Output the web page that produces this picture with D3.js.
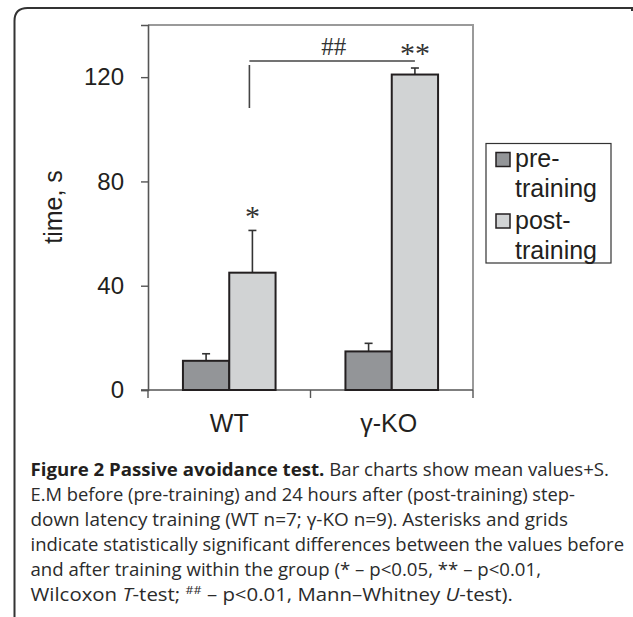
<!DOCTYPE html>
<html><head><meta charset="utf-8">
<script src="https://cdn.jsdelivr.net/npm/d3@7"></script>
<style>
html,body{margin:0;padding:0;background:#fff;}
svg{display:block;}
</style></head>
<body>
<svg id="chart" width="633" height="617"></svg>
<script>
const categories = ["WT", "γ-KO"];
const seriesNames = ["pre-training", "post-training"];
const legendLines = [["pre-", "training"], ["post-", "training"]];
const preValues = [11.2, 14.8];
const preErrors = [2.7, 3.1];
const postValues = [45.0, 121.0];
const postErrors = [16.2, 2.5];
const yTicks = [0, 40, 80, 120];
const yLabel = "time, s";
const groupMarks = ["*", "**"];
const betweenMark = "##";

const svg = d3.select("#chart");
const ink = "#231f20";
const sans = "'Liberation Sans', Arial, Helvetica, sans-serif";
const serif = "'Liberation Serif', 'Times New Roman', serif";
const capFont = "'Open Sans', 'Noto Sans', sans-serif";

// outer frame
svg.append("path")
  .attr("d", "M14.5,617 L14.5,21 Q14.5,8 27.5,8 L632,8 L632,11")
  .attr("fill", "none").attr("stroke", "#333").attr("stroke-width", 2);

const L = 148, R = 473, T = 25, B = 390;
const y = d3.scaleLinear().domain([0, 140]).range([B, T]);
const x0 = d3.scaleBand().domain(categories).range([L, R]).paddingInner(0.43).paddingOuter(0.215);
const x1 = d3.scaleBand().domain(seriesNames).range([0, x0.bandwidth()]);
const colors = d3.scaleOrdinal().domain(seriesNames).range(["#939598", "#d1d3d4"]);

// plot frame (top/right)
svg.append("path").attr("d", `M${L},${T} L${R},${T} L${R},${B}`)
  .attr("fill", "none").attr("stroke", "#9a9a9a").attr("stroke-width", 2);

// y axis
const yAxis = d3.axisLeft(y).tickValues(yTicks).tickSize(7).tickPadding(17).tickFormat(d3.format("d"));
const gy = svg.append("g").attr("transform", `translate(${L},0)`).call(yAxis);
gy.select(".domain").attr("stroke", "#555").attr("stroke-width", 1.6);
gy.selectAll(".tick line").attr("stroke", "#555").attr("stroke-width", 1.4);
gy.selectAll(".tick text").attr("font-family", sans).attr("font-size", 24).attr("fill", ink);

// x axis
const boundaries = [L, L + x0.step(), R];
const gx = svg.append("g");
gx.append("line").attr("x1", L - 7).attr("x2", R).attr("y1", B).attr("y2", B)
  .attr("stroke", "#555").attr("stroke-width", 1.6);
gx.selectAll(".xt").data(boundaries).join("line")
  .attr("x1", d => d).attr("x2", d => d).attr("y1", B).attr("y2", B + 8)
  .attr("stroke", "#555").attr("stroke-width", 1.4);
gx.selectAll(".xl").data(categories).join("text")
  .attr("x", (d, i) => x0(d) + x0.bandwidth() / 2 - (i === 1 ? 3 : 0)).attr("y", 432)
  .attr("text-anchor", "middle").attr("font-family", sans).attr("font-size", 25).attr("fill", ink)
  .text(d => d);

// y label
svg.append("text").attr("transform", "translate(61.5,207) rotate(-90)")
  .attr("text-anchor", "middle").attr("font-family", sans).attr("font-size", 25).attr("fill", ink)
  .text(yLabel);

// bars
const rows = [];
categories.forEach((c, i) => {
  rows.push({cat: c, s: seriesNames[0], v: preValues[i], e: preErrors[i]});
  rows.push({cat: c, s: seriesNames[1], v: postValues[i], e: postErrors[i]});
});
const bars = svg.append("g");
bars.selectAll(".err").data(rows).join("g").each(function(d) {
  const cx = x0(d.cat) + x1(d.s) + x1.bandwidth() / 2;
  const g = d3.select(this);
  g.append("line").attr("x1", cx).attr("x2", cx).attr("y1", y(d.v)).attr("y2", y(d.v + d.e))
    .attr("stroke", "#333").attr("stroke-width", 1.6);
  g.append("line").attr("x1", cx - 4).attr("x2", cx + 4).attr("y1", y(d.v + d.e)).attr("y2", y(d.v + d.e))
    .attr("stroke", "#333").attr("stroke-width", 1.6);
});
bars.selectAll("rect").data(rows).join("rect")
  .attr("x", d => x0(d.cat) + x1(d.s))
  .attr("y", d => y(d.v))
  .attr("width", x1.bandwidth())
  .attr("height", d => y(0) - y(d.v))
  .attr("fill", d => colors(d.s))
  .attr("stroke", ink).attr("stroke-width", 2);

// significance marks above post bars
categories.forEach((c, i) => {
  const cx = x0(c) + x1(seriesNames[1]) + x1.bandwidth() / 2;
  const top = y(postValues[i] + postErrors[i]);
  const t = svg.append("text").attr("text-anchor", "middle").attr("font-family", serif)
    .attr("font-size", 30).attr("fill", "#333").text(groupMarks[i]);
  t.attr("x", cx).attr("y", top - 4);
  const bb = t.node().getBBox();
  t.attr("y", top - 4 - ((bb.y + bb.height * 0.45) - (top - 17)) );
});

// bracket between groups
const xa = x0(categories[0]) + x1(seriesNames[1]) + x1.bandwidth() / 2;
const xb = x0(categories[1]) + x1(seriesNames[1]) + x1.bandwidth() / 2;
svg.append("line").attr("x1", xa - 3).attr("x2", xb).attr("y1", 61).attr("y2", 61)
  .attr("stroke", "#444").attr("stroke-width", 1.6);
svg.append("line").attr("x1", xa - 3).attr("x2", xa - 3).attr("y1", 65).attr("y2", 108)
  .attr("stroke", "#444").attr("stroke-width", 1.6);
svg.append("text").attr("x", (xa + xb) / 2).attr("y", 55).attr("text-anchor", "middle")
  .attr("font-family", serif).attr("font-size", 25).attr("fill", "#333").text(betweenMark);

// legend
const lg = svg.append("g");
lg.append("rect").attr("x", 486).attr("y", 143.5).attr("width", 125).attr("height", 119.5)
  .attr("fill", "#fff").attr("stroke", "#333").attr("stroke-width", 1.2);
seriesNames.forEach((s, i) => {
  const oy = 152.5 + i * 61.5;
  lg.append("rect").attr("x", 496).attr("y", oy).attr("width", 14).attr("height", 14)
    .attr("fill", colors(s)).attr("stroke", ink).attr("stroke-width", 1.5);
  legendLines[i].forEach((ln, j) => {
    lg.append("text").attr("x", 515).attr("y", oy + 14.5 + j * 30)
      .attr("font-family", sans).attr("font-size", 25).attr("fill", ink).text(ln);
  });
});

// caption
const capLines = [
  [{t: "Figure 2 Passive avoidance test.", b: true}, {t: " Bar charts show mean values+S."}],
  [{t: "E.M before (pre-training) and 24 hours after (post-training) step-"}],
  [{t: "down latency training (WT n=7; γ-KO n=9). Asterisks and grids"}],
  [{t: "indicate statistically significant differences between the values before"}],
  [{t: "and after training within the group (* – p<0.05, ** – p<0.01,"}],
  [{t: "Wilcoxon "}, {t: "T", i: true}, {t: "-test; "}, {t: "##", sup: true}, {t: " – p<0.01, Mann–Whitney ", down: true}, {t: "U", i: true}, {t: "-test)."}]
];
const capRight = [609, 575, 568, 624, 541, 513];
const cap = svg.append("g");
capLines.forEach((parts, k) => {
  const t = cap.append("text").attr("x", 30.5).attr("y", 476 + k * 25)
    .attr("font-family", capFont).attr("font-size", 18).attr("fill", "#2b2b2b");
  parts.forEach(p => {
    const ts = t.append("tspan").text(p.t);
    if (p.b) ts.attr("font-weight", "bold").attr("fill", ink);
    if (p.i) ts.attr("font-style", "italic");
    if (p.sup) ts.attr("font-size", 11).attr("dy", -7);
    if (p.down) ts.attr("dy", 7);
  });
  t.attr("textLength", capRight[k] - 30.5).attr("lengthAdjust", "spacingAndGlyphs");
});
</script>
</body></html>
